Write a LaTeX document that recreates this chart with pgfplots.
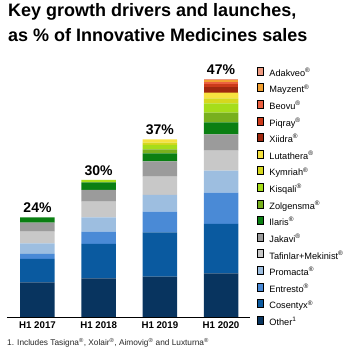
\documentclass[border=0pt]{standalone}
\usepackage{fontspec}
\setmainfont{Liberation Sans}
\usepackage{pgfplots}
\usepackage{pgfplotstable}
\pgfplotsset{compat=1.18}
\definecolor{cOther}{HTML}{08345F}
\definecolor{cCosentyx}{HTML}{0A5AA0}
\definecolor{cEntresto}{HTML}{4A8AD6}
\definecolor{cPromacta}{HTML}{9DBEE0}
\definecolor{cTafinlar}{HTML}{C8C8C8}
\definecolor{cJakavi}{HTML}{9B9B9B}
\definecolor{cIlaris}{HTML}{0A7F12}
\definecolor{cZolgensma}{HTML}{78B01E}
\definecolor{cKisqali}{HTML}{A6DD1A}
\definecolor{cKymriah}{HTML}{D6D81E}
\definecolor{cLutathera}{HTML}{F7E240}
\definecolor{cXiidra}{HTML}{A0280F}
\definecolor{cPiqray}{HTML}{CC3A1A}
\definecolor{cBeovu}{HTML}{EB6040}
\definecolor{cMayzent}{HTML}{F2A030}
\definecolor{cAdakveo}{HTML}{EE9A80}
\pgfplotstableread{
x Other Cosentyx Entresto Promacta Tafinlar Jakavi Ilaris Zolgensma Kisqali Kymriah Lutathera Xiidra Piqray Beovu Mayzent Adakveo
0 34.7 23.3 5.0 10.7 11.6 9.0 5.4 0 0 0 0 0 0 0 0 0
1 38.7 34.3 12.3 14.4 15.6 11.7 7.7 0 2.3 0 0 0 0 0 0 0
2 40.3 44.4 20.6 16.7 18.3 15.2 8.0 4.0 4.5 2.3 3.4 0 0 0 0 0
3 43.7 49.3 31.3 22.0 20.0 16.4 11.8 9.8 9.4 5.0 5.6 5.7 3.0 2.0 1.5 1.2
}\datatable
\pgfplotsset{/pgfplots/ybar legend/.style={/pgfplots/legend image code/.code={\fill[##1] (0pt,-2pt) rectangle (12pt,8pt);}}}
\newcommand{\reg}{\textsuperscript{\textregistered}}
\begin{document}
\begin{tikzpicture}
\path[use as bounding box] (-7pt,-38pt) rectangle (349pt,317pt);
\begin{axis}[
  at={(0pt,0pt)}, anchor=south west,
  scale only axis, width=243pt, height=250.3pt,
  xmin=-0.4986, xmax=3.474, ymin=0, ymax=250.3,
  ybar stacked, bar width=34.5pt,
  axis x line=bottom, axis y line=none,
  axis line style={-, line width=0.8pt, black},
  xtick={0,1,2,3}, xticklabels={H1 2017, H1 2018, H1 2019, H1 2020},
  major tick length=0pt,
  xticklabel style={font=\bfseries\fontsize{9.7}{11}\selectfont, inner sep=0pt, anchor=north, yshift=-4.5pt},
  reverse legend,
  legend cell align=left,
  legend style={at={(rel axis cs:1,1)}, anchor=north west, xshift=6.5pt, draw=none, fill=none,
    inner sep=0pt, outer sep=0pt, row sep=5.5pt, column sep=6.5pt,
    nodes={inner sep=0pt, font=\fontsize{9.2}{10}\selectfont}},
  clip=false,
]
\addplot[fill=cOther, draw=none] table[x=x, y=Other] {\datatable};
\addlegendentry{Other\textsuperscript{1}}
\addplot[fill=cCosentyx, draw=none] table[x=x, y=Cosentyx] {\datatable};
\addlegendentry{Cosentyx\reg}
\addplot[fill=cEntresto, draw=none] table[x=x, y=Entresto] {\datatable};
\addlegendentry{Entresto\reg}
\addplot[fill=cPromacta, draw=none] table[x=x, y=Promacta] {\datatable};
\addlegendentry{Promacta\reg}
\addplot[fill=cTafinlar, draw=none] table[x=x, y=Tafinlar] {\datatable};
\addlegendentry{Tafinlar+Mekinist\reg}
\addplot[fill=cJakavi, draw=none] table[x=x, y=Jakavi] {\datatable};
\addlegendentry{Jakavi\reg}
\addplot[fill=cIlaris, draw=none] table[x=x, y=Ilaris] {\datatable};
\addlegendentry{Ilaris\reg}
\addplot[fill=cZolgensma, draw=none] table[x=x, y=Zolgensma] {\datatable};
\addlegendentry{Zolgensma\reg}
\addplot[fill=cKisqali, draw=none] table[x=x, y=Kisqali] {\datatable};
\addlegendentry{Kisqali\reg}
\addplot[fill=cKymriah, draw=none] table[x=x, y=Kymriah] {\datatable};
\addlegendentry{Kymriah\reg}
\addplot[fill=cLutathera, draw=none] table[x=x, y=Lutathera] {\datatable};
\addlegendentry{Lutathera\reg}
\addplot[fill=cXiidra, draw=none] table[x=x, y=Xiidra] {\datatable};
\addlegendentry{Xiidra\reg}
\addplot[fill=cPiqray, draw=none] table[x=x, y=Piqray] {\datatable};
\addlegendentry{Piqray\reg}
\addplot[fill=cBeovu, draw=none] table[x=x, y=Beovu] {\datatable};
\addlegendentry{Beovu\reg}
\addplot[fill=cMayzent, draw=none] table[x=x, y=Mayzent] {\datatable};
\addlegendentry{Mayzent\reg}
\addplot[fill=cAdakveo, draw=none] table[x=x, y=Adakveo] {\datatable};
\addlegendentry{Adakveo\reg}
\node[anchor=south, font=\bfseries\fontsize{14}{16}\selectfont, inner sep=0pt, yshift=4pt] at (axis cs:0,99.7) {24\%};
\node[anchor=south, font=\bfseries\fontsize{14}{16}\selectfont, inner sep=0pt, yshift=4pt] at (axis cs:1,137.0) {30\%};
\node[anchor=south, font=\bfseries\fontsize{14}{16}\selectfont, inner sep=0pt, yshift=4pt] at (axis cs:2,177.7) {37\%};
\node[anchor=south, font=\bfseries\fontsize{14}{16}\selectfont, inner sep=0pt, yshift=4pt] at (axis cs:3,237.7) {47\%};
\end{axis}
\node[anchor=base west, inner sep=0pt, font=\bfseries\fontsize{18}{20}\selectfont] at (1pt,300pt) {Key growth drivers and launches,};
\node[anchor=base west, inner sep=0pt, font=\bfseries\fontsize{18}{20}\selectfont] at (1pt,275pt) {as \% of Innovative Medicines sales};
\node[anchor=base west, inner sep=0pt, font=\fontsize{8.3}{9}\selectfont, text=black!85] at (0pt,-28.5pt) {1. Includes Tasigna\reg, Xolair\reg, Aimovig\reg\ and Luxturna\reg};
\end{tikzpicture}
\end{document}
